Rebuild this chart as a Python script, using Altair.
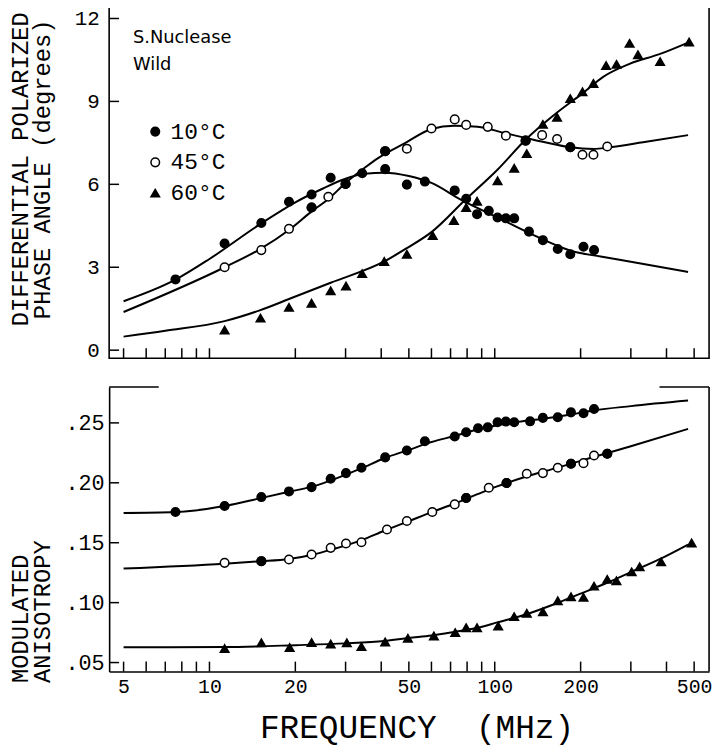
import altair as alt
import pandas as pd

# ---------------- data ----------------
SERIES = ["10°C", "45°C", "60°C"]

# Top panel: differential polarized phase angle (degrees)
T10_F = [7.6, 11.3, 15.2, 19.0, 22.8, 26.6, 34.3, 41.3, 49.2, 56.9, 72.4, 79.4, 86.7, 95.3,
         102.3, 109.4, 117, 131.8, 147.5, 166.3, 184, 204.7, 222.9]
T10_V = [2.56, 3.86, 4.60, 5.37, 5.63, 6.24, 6.40, 6.55, 5.99, 6.10, 5.78, 5.48, 4.92, 5.04,
         4.80, 4.77, 4.77, 4.29, 3.98, 3.66, 3.47, 3.74, 3.62]

T45_F = [11.3, 15.2, 19.0, 22.8, 26.1, 30.0, 41.3, 49.2, 60, 72.4, 79.4, 94.5, 109.4, 128.3,
         146.6, 165.4, 184, 203, 221.8, 248]
T45_V = [3.00, 3.62, 4.39, 5.16, 5.55, 6.01, 7.20, 7.29, 8.02, 8.35, 8.15, 8.08, 7.76, 7.58,
         7.78, 7.64, 7.34, 7.07, 7.07, 7.37]
T45_SOLID = [0, 0, 0, 1, 0, 1, 1, 0, 0, 0, 0, 0, 0, 1, 0, 0, 1, 0, 0, 0]

T60_F = [11.3, 15.1, 19.0, 22.8, 26.6, 30.1, 34.3, 41.0, 49.2, 60.6, 71.9, 79.4, 86.7, 102.3,
         117, 129.5, 147.5, 165.4, 184, 203, 221.8, 245.6, 267.3, 297, 317.8, 380, 480]
T60_V = [0.73, 1.16, 1.55, 1.70, 2.15, 2.32, 2.77, 3.21, 3.47, 4.15, 4.69, 5.16, 5.39, 6.13,
         6.58, 7.11, 8.17, 8.43, 9.10, 9.35, 9.65, 10.30, 10.34, 11.10, 10.69, 10.44, 11.15]

# fitted curves (top)
TC10_F = [5, 7.6, 10, 15, 20, 25, 30, 35, 41, 50, 60, 76, 88, 100, 130, 190, 235, 300, 476]
TC10_V = [1.77, 2.55, 3.3, 4.55, 5.35, 5.85, 6.2, 6.38, 6.42, 6.3, 6.05, 5.45, 5.12, 4.85,
          4.27, 3.56, 3.39, 3.2, 2.83]
TC45_F = [5, 11.3, 15, 19, 23, 26, 30, 35, 39, 49, 60, 72, 87, 109, 128, 150, 184, 222, 253,
          331, 476]
TC45_V = [1.38, 3.0, 3.65, 4.35, 5.05, 5.45, 6.05, 6.6, 6.95, 7.52, 8.0, 8.12, 8.08, 7.85,
          7.68, 7.52, 7.34, 7.28, 7.34, 7.52, 7.78]
TC60_F = [5, 7, 11.3, 15, 19, 26.6, 41, 49, 60, 79, 102, 129, 165, 203, 240, 297, 378, 476]
TC60_V = [0.49, 0.7, 1.05, 1.44, 1.85, 2.44, 3.21, 3.68, 4.27, 5.45, 6.52, 7.64, 8.59, 9.29,
          9.89, 10.36, 10.71, 11.13]

# Bottom panel: modulated anisotropy
B10_F = [7.6, 11.3, 15.2, 19.0, 22.8, 26.6, 30.1, 34.1, 41.3, 49.2, 56.9, 72.4, 79.4, 87.4,
         94.5, 102.3, 109.4, 117, 133, 147.5, 166.3, 185, 204.7, 222.9]
B10_V = [0.1756, 0.1806, 0.1881, 0.1928, 0.1964, 0.2034, 0.2081, 0.2126, 0.2212, 0.227,
         0.2347, 0.2386, 0.2422, 0.2455, 0.2463, 0.2505, 0.2511, 0.2505, 0.2513, 0.2542,
         0.2547, 0.2588, 0.258, 0.2616]

B45_F = [11.3, 15.2, 19.0, 22.8, 26.6, 30.1, 34.1, 41.9, 49.2, 60.4, 72.4, 79.4, 95.3, 110,
         129.5, 147.5, 166.3, 185, 204.7, 222.9, 248]
B45_V = [0.1332, 0.1346, 0.136, 0.1402, 0.1457, 0.1493, 0.1504, 0.161, 0.1681, 0.1756,
         0.182, 0.1873, 0.1959, 0.1998, 0.2076, 0.2081, 0.2126, 0.2159, 0.2164, 0.2228, 0.2242]
B45_SOLID = [0, 1, 0, 0, 0, 0, 0, 0, 0, 0, 0, 1, 0, 1, 0, 0, 0, 1, 0, 0, 1]

B60_F = [11.3, 15.2, 19.1, 22.8, 26.6, 30.3, 34.1, 41.3, 49.6, 61.2, 72.7, 79.4, 86.7, 102.8,
         117, 129.5, 147.5, 166.3, 185, 204.7, 222.9, 248, 267, 302, 322, 383, 490]
B60_V = [0.0617, 0.0665, 0.0625, 0.0667, 0.0655, 0.0665, 0.0633, 0.0672, 0.0703, 0.0722,
         0.075, 0.0791, 0.0791, 0.0805, 0.0883, 0.0911, 0.0924, 0.1016, 0.1049, 0.1044,
         0.1138, 0.1194, 0.1182, 0.1257, 0.1299, 0.134, 0.1498]

# fitted curves (bottom)
BC10_F = [5, 7.6, 11.3, 15, 19, 23, 27, 34, 41, 50, 60, 72, 87, 102, 117, 148, 185, 223, 300, 476]
BC10_V = [0.1748, 0.1756, 0.1806, 0.187, 0.1925, 0.197, 0.2025, 0.212, 0.2205, 0.2275,
          0.234, 0.239, 0.2445, 0.248, 0.2505, 0.2535, 0.257, 0.2605, 0.264, 0.2686]
BC45_F = [5, 11.3, 15, 19, 23, 27, 34, 41, 50, 60, 72, 87, 102, 130, 165, 222, 300, 476]
BC45_V = [0.1285, 0.1325, 0.1345, 0.1365, 0.140, 0.1445, 0.152, 0.160, 0.168, 0.1755,
          0.1825, 0.1905, 0.197, 0.2055, 0.2125, 0.2215, 0.2305, 0.245]
BC60_F = [5, 11.3, 20, 30, 41, 50, 60, 72, 87, 102, 130, 165, 200, 250, 300, 380, 476]
BC60_V = [0.0628, 0.063, 0.0645, 0.066, 0.068, 0.0705, 0.0725, 0.0755, 0.079, 0.0835,
          0.0905, 0.0995, 0.1075, 0.117, 0.1255, 0.1365, 0.1485]

# axis ticks / labels
X_TICKS = [5, 6, 7, 8, 9, 10, 20, 30, 40, 50, 60, 70, 80, 90, 100, 200, 300, 400, 500]
X_LABELS = [5, 10, 20, 50, 100, 200, 500]
TOP_Y_TICKS = [0, 3, 6, 9, 12]
BOT_Y_TICKS = [0.05, 0.10, 0.15, 0.20, 0.25]
ANNOTATION = ["S.Nuclease", "Wild"]
TOP_TITLE = ["DIFFERENTIAL POLARIZED", "PHASE ANGLE (degrees)"]
BOT_TITLE = ["MODULATED", "ANISOTROPY"]
X_TITLE = "FREQUENCY \u00a0(MHz)"

# ---------------- tables ----------------
def pts(series_lists):
    rows = []
    for name, fs, vs, solid in series_lists:
        for i, (f, v) in enumerate(zip(fs, vs)):
            rows.append({"f": f, "v": v, "series": name,
                         "solid": (solid[i] if solid else 0)})
    return pd.DataFrame(rows)

def curves(series_lists):
    rows = []
    for name, fs, vs in series_lists:
        for f, v in zip(fs, vs):
            rows.append({"f": f, "v": v, "series": name})
    return pd.DataFrame(rows)

top_pts = pts([("10°C", T10_F, T10_V, None), ("45°C", T45_F, T45_V, T45_SOLID),
               ("60°C", T60_F, T60_V, None)])
bot_pts = pts([("10°C", B10_F, B10_V, None), ("45°C", B45_F, B45_V, B45_SOLID),
               ("60°C", B60_F, B60_V, None)])
top_cur = curves([("10°C", TC10_F, TC10_V), ("45°C", TC45_F, TC45_V), ("60°C", TC60_F, TC60_V)])
bot_cur = curves([("10°C", BC10_F, BC10_V), ("45°C", BC45_F, BC45_V), ("60°C", BC60_F, BC60_V)])

xt = pd.DataFrame({"f": X_TICKS})
top_yt = pd.DataFrame({"v": TOP_Y_TICKS})
bot_yt = pd.DataFrame({"v": BOT_Y_TICKS})

# ---------------- styling ----------------
W = 605
H_TOP = 354
H_BOT = 287
MONO = "Liberation Mono"
TICK_LEN = 10

x_scale = alt.Scale(type="log", domain=[4.45, 564], nice=False)
top_scale = alt.Scale(domain=[-0.29, 12.41], nice=False, zero=False)
bot_scale = alt.Scale(domain=[0.0425, 0.28], nice=False, zero=False)
shape_scale = alt.Scale(domain=SERIES, range=["circle", "circle", "triangle-up"])
fill_scale = alt.Scale(domain=SERIES, range=["black", "white", "black"])
stroke_scale = alt.Scale(domain=SERIES, range=["black", "black", "black"])

top_y_axis = alt.Axis(values=TOP_Y_TICKS, ticks=False, domain=False, grid=False,
                      labelFont=MONO, labelFontSize=21, labelPadding=10, labelColor="black",
                      title=TOP_TITLE, titleFont=MONO, titleFontSize=24,
                      titleFontWeight="normal", titleColor="black", titleAngle=-90,
                      titleX=-82, titleY=163, titleAlign="center",
                      titleBaseline="alphabetic", titleLineHeight=22)
bot_y_axis = alt.Axis(values=BOT_Y_TICKS, ticks=False, domain=True, domainColor="black",
                      domainWidth=1.6, grid=False,
                      labelExpr="replace(format(datum.value, '.2f'), '0.', '.')",
                      labelFont=MONO, labelFontSize=22, labelPadding=5, labelColor="black",
                      title=BOT_TITLE, titleFont=MONO, titleFontSize=24,
                      titleFontWeight="normal", titleColor="black", titleAngle=-90,
                      titleX=-82, titleY=298, titleAlign="left",
                      titleBaseline="alphabetic", titleLineHeight=22)
bot_x_axis = alt.Axis(values=X_LABELS, format="d", ticks=False, domain=True,
                      domainColor="black", domainWidth=1.6, grid=False, labelFlush=False,
                      labelFont=MONO, labelFontSize=20, labelPadding=5, labelColor="black",
                      title=X_TITLE, titleFont=MONO, titleFontSize=33,
                      titleFontWeight="normal", titleColor="black",
                      titleX=310, titleY=67, titleAlign="center", titleBaseline="alphabetic")

legend = alt.Legend(orient="none", legendX=35, legendY=114, title=None,
                    labelFont=MONO, labelFontSize=23, labelColor="black",
                    symbolSize=75, symbolStrokeColor="black", symbolStrokeWidth=1.5,
                    symbolOpacity=1, rowPadding=7, labelOffset=4, padding=0)


def panel(pts_df, cur_df, yscale, yaxis, xaxis, yt_df, h, with_legend):
    X = alt.X("f:Q", scale=x_scale, axis=xaxis)
    Y = alt.Y("v:Q", scale=yscale, axis=yaxis)
    lines = alt.Chart(cur_df).mark_line(color="black", strokeWidth=2,
                                        interpolate="monotone").encode(
        x=X, y=Y, detail="series:N")
    lg = legend if with_legend else None
    shape = alt.Shape("series:N", scale=shape_scale, legend=lg)
    fill = alt.Fill("series:N", scale=fill_scale, legend=lg)
    stroke = alt.Stroke("series:N", scale=stroke_scale, legend=lg)
    points = alt.Chart(pts_df).mark_point(filled=True, strokeWidth=1.5,
                                          size=75, opacity=1).encode(
        x=X, y=Y, shape=shape, fill=fill, stroke=stroke)
    solid = alt.Chart(pts_df).transform_filter("datum.solid == 1").mark_point(
        filled=True, shape="circle", fill="black", stroke="black", strokeWidth=1.5,
        size=75, opacity=1).encode(x=X, y=Y)
    xticks = alt.Chart(xt).mark_rule(color="black", strokeWidth=1.5).encode(
        x=X, y=alt.value(h), y2=alt.value(h - TICK_LEN))
    yticks = alt.Chart(yt_df).mark_rule(color="black", strokeWidth=1.5).encode(
        y=Y, x=alt.value(0), x2=alt.value(TICK_LEN))
    return [lines, points, solid, xticks, yticks]


top_layers = panel(top_pts, top_cur, top_scale, top_y_axis, None, top_yt, H_TOP, True)
annot = alt.Chart(pd.DataFrame({"t": [0]})).mark_text(
    font="DejaVu Sans", fontSize=18, align="left", baseline="middle", lineHeight=27,
    color="black").encode(x=alt.value(24), y=alt.value(31), text=alt.value(ANNOTATION))
top = alt.layer(*top_layers, annot).properties(
    width=W, height=H_TOP,
    view=alt.ViewBackground(stroke="black", strokeWidth=1.6))

bot_layers = panel(bot_pts, bot_cur, bot_scale, bot_y_axis, bot_x_axis, bot_yt, H_BOT, False)
one = pd.DataFrame({"t": [0]})
right_border = alt.Chart(one).mark_rule(color="black", strokeWidth=1.6).encode(
    x=alt.value(W), y=alt.value(0), y2=alt.value(H_BOT))
top_left_seg = alt.Chart(one).mark_rule(color="black", strokeWidth=1.6).encode(
    x=alt.value(0), x2=alt.value(50), y=alt.value(0))
top_right_seg = alt.Chart(one).mark_rule(color="black", strokeWidth=1.6).encode(
    x=alt.value(W - 50), x2=alt.value(W), y=alt.value(0))
bottom = alt.layer(*bot_layers, right_border, top_left_seg, top_right_seg).properties(
    width=W, height=H_BOT,
    view=alt.ViewBackground(stroke="transparent", strokeWidth=0))

chart = alt.vconcat(top, bottom, spacing=25).properties(
    padding={"left": 0, "top": -5, "right": 5, "bottom": 5}
).resolve_scale(shape="independent", fill="independent", stroke="independent").configure(
    background="white"
).configure_view(strokeWidth=0)

chart.save("out.html", embed_options={"renderer": "svg", "actions": False})
